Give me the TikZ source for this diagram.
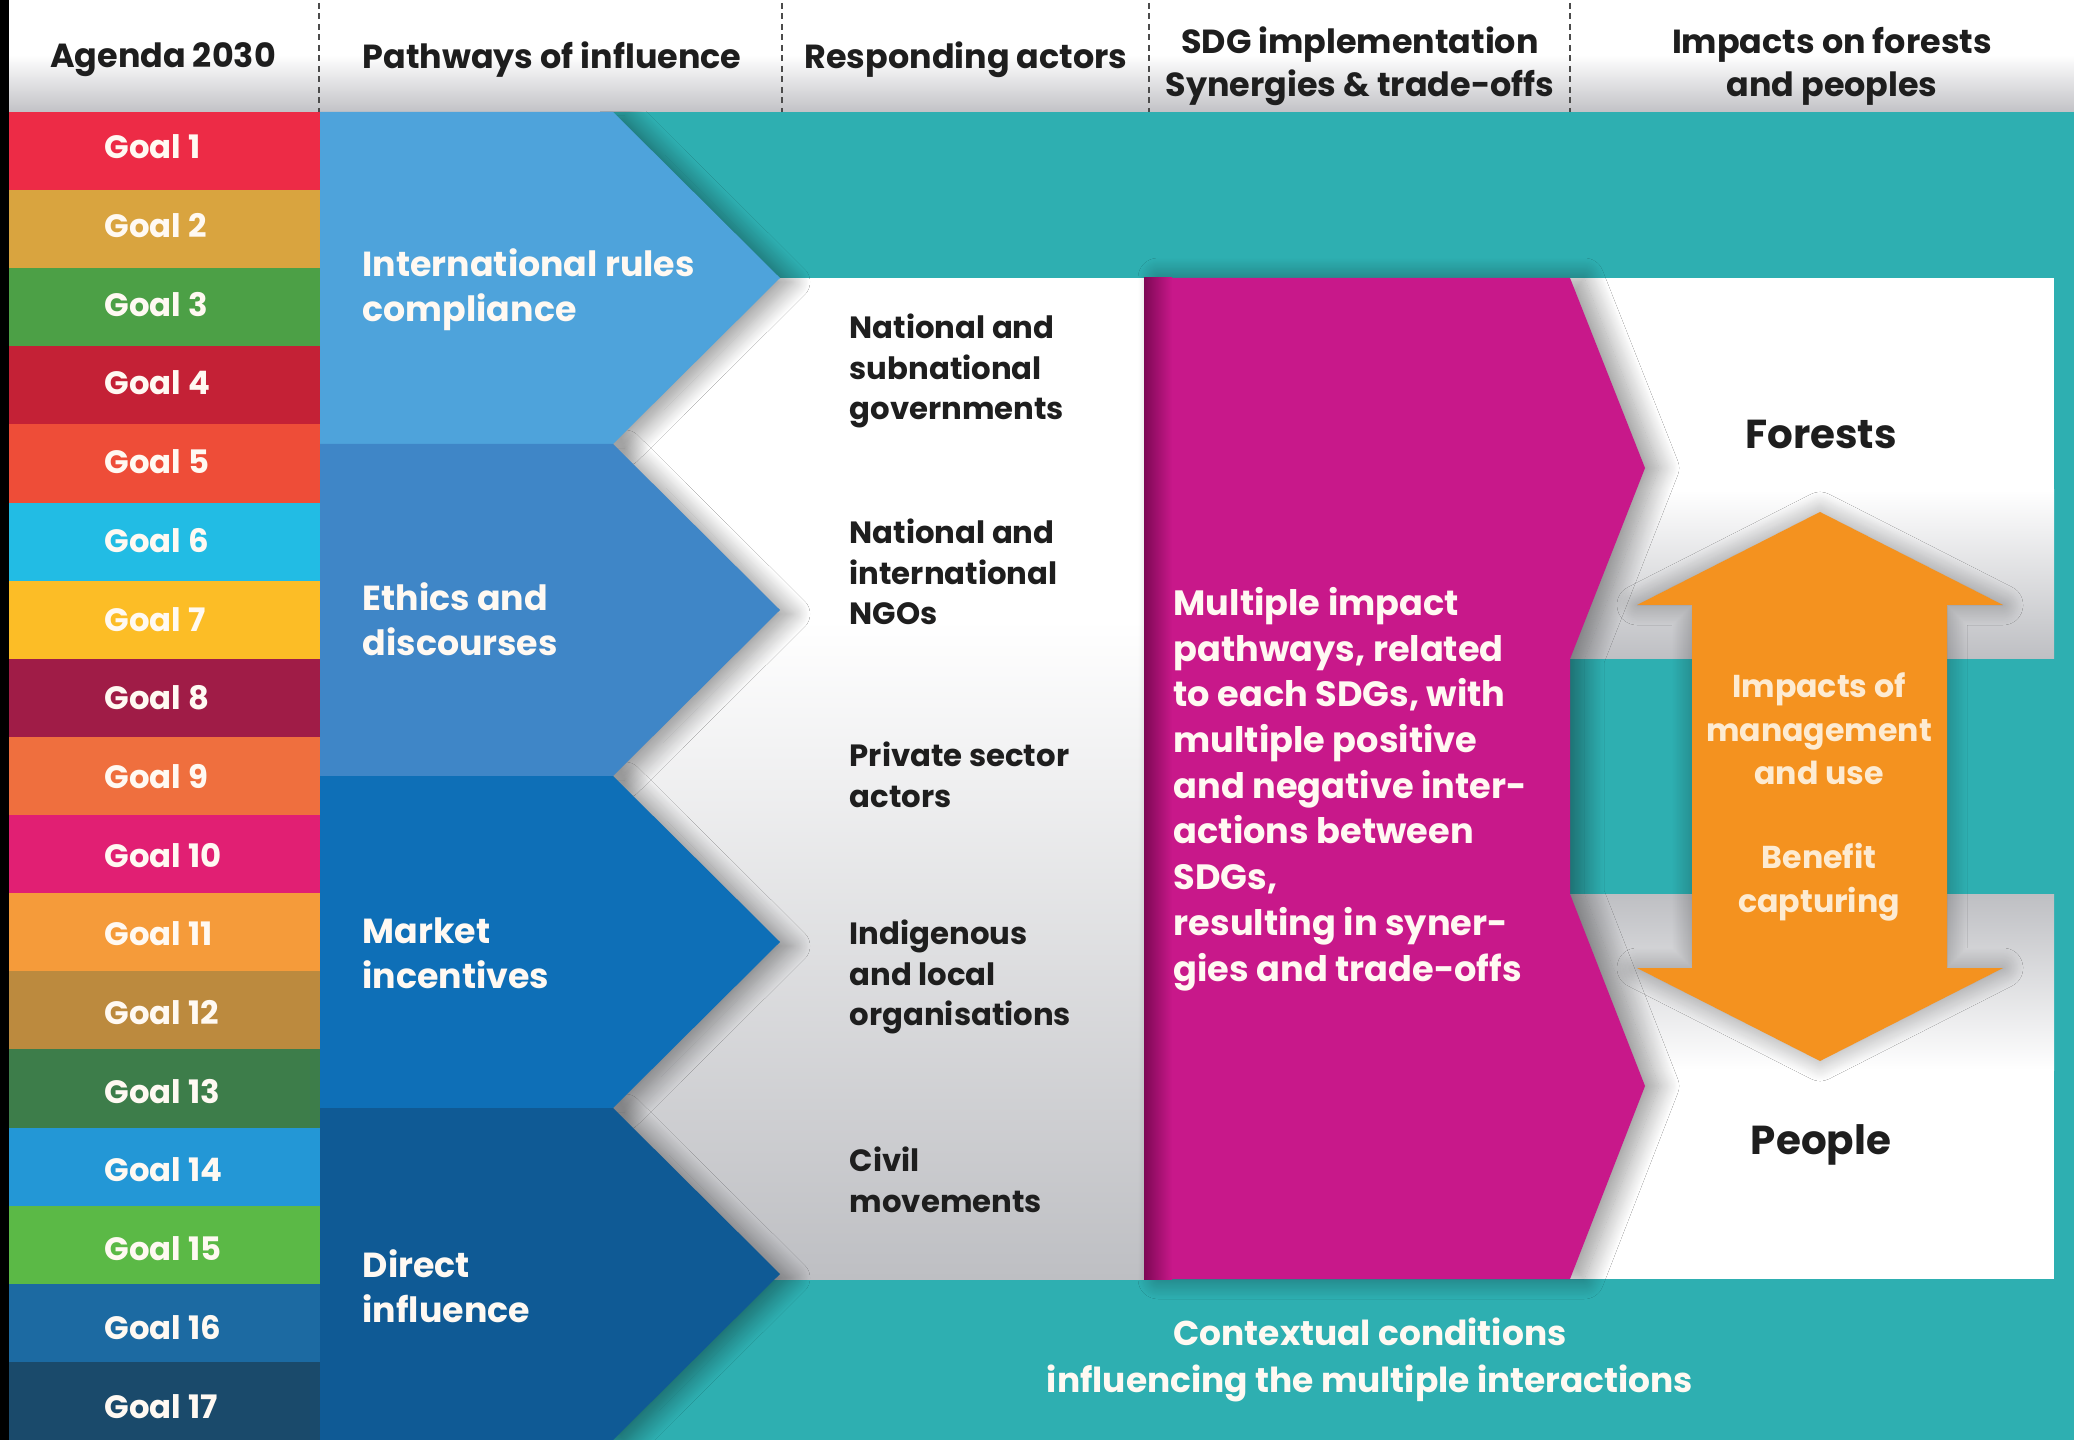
\documentclass[tikz,border=0pt]{standalone}
\usepackage{fontspec}
\setmainfont{Poppins}
\usetikzlibrary{shadows.blur}

\definecolor{bgteal}{HTML}{2EAFB1}
\definecolor{chevA}{HTML}{4EA3DB}
\definecolor{chevB}{HTML}{3F86C7}
\definecolor{chevC}{HTML}{0E6FB7}
\definecolor{chevD}{HTML}{0F5A95}
\definecolor{sdgmag}{HTML}{C8188A}
\definecolor{magdark}{HTML}{7E0855}
\definecolor{arrorange}{HTML}{F4921F}
\definecolor{cream}{HTML}{FDEBD2}
\definecolor{paper}{HTML}{FFF9F2}
\definecolor{shadegray}{HTML}{BEBFC3}
\definecolor{hdrgray}{HTML}{C2C2C6}
\definecolor{inkblack}{HTML}{1E1E1E}

% one pathway chevron, #1 = top edge
\newcommand\chevpath[1]{(320,#1) -- (613,#1) -- (780,{#1+166}) -- (613,{#1+332}) -- (320,{#1+332}) -- cycle}

\begin{document}
\begin{tikzpicture}[x=0.1mm, y=-0.1mm,
	hdr/.style={align=center, text=inkblack, font=\bfseries\fontsize{9.5}{12.2}\selectfont},
	goal/.style={anchor=west, inner sep=0pt, text=paper, font=\bfseries\fontsize{9.2}{11}\selectfont},
	way/.style={anchor=west, inner sep=0pt, align=left, text=paper, font=\bfseries\fontsize{9.9}{12.8}\selectfont},
	actor/.style={anchor=west, inner sep=0pt, align=left, text=inkblack, font=\bfseries\fontsize{8.75}{11.6}\selectfont},
	sdgtext/.style={anchor=west, inner sep=0pt, align=left, text=paper, font=\bfseries\fontsize{10}{13}\selectfont},
	impact/.style={align=center, text=cream, font=\bfseries\fontsize{9}{12.4}\selectfont},
	target/.style={text=inkblack, font=\bfseries\fontsize{11.5}{13}\selectfont},
	chevshadow/.style={blur shadow={shadow xshift=1.2mm, shadow yshift=-0.4mm, shadow blur radius=1.8mm, shadow blur steps=24, shadow opacity=40}},
	magshadow/.style={blur shadow={shadow xshift=1.4mm, shadow yshift=0mm, shadow blur radius=2mm, shadow blur steps=24, shadow opacity=40}},
	glow/.style={blur shadow={shadow xshift=0mm, shadow yshift=0mm, shadow blur radius=2mm, shadow blur steps=24, shadow opacity=35}},
]
	\useasboundingbox (0,0) rectangle (2074,1440);

	% backgrounds
	\fill[bgteal] (0,0) rectangle (2074,1440);
	\fill[white] (0,0) rectangle (2074,55);
	\shade[top color=white, bottom color=hdrgray] (0,55) rectangle (2074,112);
	\fill[black] (0,0) rectangle (9,1440);

	% header
	\foreach \x in {319,782,1149,1570}
		\draw[inkblack!80, line width=0.25mm, dash pattern=on 0.6mm off 0.45mm] (\x,3) -- (\x,112);
	\node[hdr] (agenda) at (163,60) {Agenda 2030};
	\node[hdr] (pathways) at (552,60) {Pathways of influence};
	\node[hdr] (actors) at (966,60) {Responding actors};
	\node[hdr] (implem) at (1360,66) {SDG implementation\\Synergies \& trade-offs};
	\node[hdr] (impacts) at (1832,66) {Impacts on forests\\and peoples};

	% the 17 goals
	\foreach \n/\c in {1/ED2B46,2/D9A43F,3/4CA046,4/C42136,5/EE4D38,6/22BCE4,7/FCBD26,8/A01C47,9/EF6F3E,
		10/E11F73,11/F59B3A,12/BC8A3E,13/3D7D4A,14/2397D6,15/5BB946,16/1C6AA2,17/1A4A6B}{
		\definecolor{goalcol}{HTML}{\c}
		\fill[goalcol] (9,{112+78.12*(\n-1)}) rectangle (320,{112+78.12*\n});
		\node[goal] (goal\n) at (104,{147+78.7*(\n-1)}) {Goal \n};
	}

	% responding actors area
	\fill[white] (613,278) rectangle (1144,1279);
	\shade[top color=white, bottom color=shadegray] (613,620) rectangle (1144,1279);

	% impact boxes
	\fill[white] (1570,278) rectangle (2054,659);
	\shade[top color=white, bottom color=shadegray] (1570,490) rectangle (2054,659);
	\fill[white] (1570,894) rectangle (2054,1279);
	\shade[top color=shadegray, bottom color=white] (1570,894) rectangle (2054,1070);

	% pathways
	\begin{scope}
		\clip (600,112) rectangle (1144,1440);
		\foreach \k in {0,...,3}
			\path[chevshadow] \chevpath{112+332*\k};
	\end{scope}
	\foreach \k/\c in {0/chevA,1/chevB,2/chevC,3/chevD}
		\fill[\c] \chevpath{112+332*\k};
	\node[way] (rules) at (362,290) {International rules\\compliance};
	\node[way] (ethics) at (362,619) {Ethics and\\discourses};
	\node[way] (market) at (362,953) {Market\\incentives};
	\node[way] (direct) at (362,1286) {Direct\\influence};

	\node[actor] (gov) at (849,371) {National and\\subnational\\governments};
	\node[actor] (ngo) at (849,572) {National and\\international\\NGOs};
	\node[actor] (private) at (849,775) {Private sector\\actors};
	\node[actor] (indig) at (849,977) {Indigenous\\and local\\organisations};
	\node[actor] (civil) at (849,1180) {Civil\\movements};

	% SDG implementation
	\fill[sdgmag, magshadow] (1144,278) -- (1570,278) -- (1645,468) -- (1570,659) -- (1570,894)
		-- (1645,1086) -- (1570,1279) -- (1144,1279) -- cycle;
	\shade[left color=magdark, right color=sdgmag] (1144,278) rectangle (1172,1279);
	\node[sdgtext] (multi) at (1173,789) {Multiple impact\\pathways, related\\to each SDGs, with\\multiple positive\\and negative inter-\\actions between\\SDGs,\\resulting in syner-\\gies and trade-offs};

	% forests and people
	\node[target] (forests) at (1821,434) {Forests};
	\node[target] (people) at (1821,1145) {People};
	\fill[arrorange, glow] (1820,512) -- (2003,605) -- (1947,605) -- (1947,968) -- (2003,968) -- (1820,1061)
		-- (1637,968) -- (1692,968) -- (1692,605) -- (1637,605) -- cycle;
	\node[impact] (mgmt) at (1819,729) {Impacts of\\management\\and use};
	\node[impact] (benefit) at (1819,882) {Benefit\\capturing};

	\node[impact, text=paper, font=\bfseries\fontsize{9.8}{13.2}\selectfont] (context) at (1370,1360) {Contextual conditions\\influencing the multiple interactions};
\end{tikzpicture}
\end{document}
